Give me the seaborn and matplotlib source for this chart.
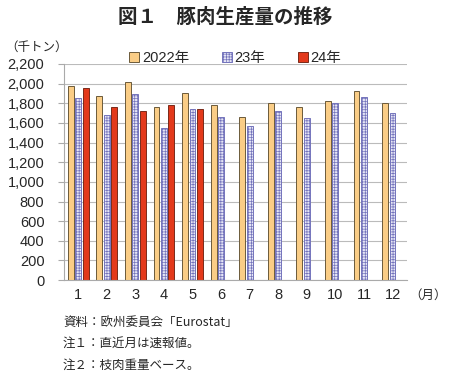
import matplotlib
matplotlib.use('Agg')
import matplotlib.pyplot as plt
import seaborn as sns
import pandas as pd
import numpy as np
from matplotlib.patches import Patch

months = [str(m) for m in range(1, 13)]
y2022 = [1978, 1875, 2019, 1759, 1902, 1779, 1656, 1800, 1766, 1820, 1923, 1807]
y2023 = [1858, 1677, 1889, 1543, 1738, 1663, 1571, 1725, 1646, 1807, 1868, 1697]
y2024 = [1954, 1762, 1721, 1779, 1738]
series = ['2022年', '23年', '24年']

# long-format table for seaborn
rows = []
for name, vals in zip(series, [y2022, y2023, y2024]):
    for i, m in enumerate(months):
        v = vals[i] if i < len(vals) else np.nan
        rows.append({'month': m, 'series': name, 'value': v})
df = pd.DataFrame(rows)

sns.set_style('white')
plt.rcParams['font.family'] = ['Liberation Sans', 'Noto Sans CJK JP', 'DejaVu Sans']
plt.rcParams['hatch.linewidth'] = 0.5

colors = ['#FACD86', '#E6E6F6', '#E3391B']
edges = ['#6B5A3A', '#7474BC', '#7A2A1A']

fig = plt.figure(figsize=(4.5, 3.76), dpi=100)
ax = fig.add_axes([0.142, 0.255, 0.762, 0.575])

sns.barplot(data=df, x='month', y='value', hue='series', order=months,
            hue_order=series, palette=colors, width=0.78, ax=ax,
            legend=False, errorbar=None, saturation=1)

for k, cont in enumerate(ax.containers):
    for p in cont.patches:
        w = p.get_width()
        p.set_x(p.get_x() + w * 0.1)
        p.set_width(w * 0.8)
        p.set_edgecolor(edges[k])
        p.set_linewidth(0.7)
        if k == 1:
            p.set_hatch('++++++')

ax.set_ylim(0, 2200)
ax.set_yticks(range(0, 2201, 200))
ax.set_yticklabels([f'{v:,}' for v in range(0, 2201, 200)], fontsize=10.5)
ax.set_xticklabels(months, fontsize=10.5)
ax.set_xlabel('')
ax.set_ylabel('')
ax.yaxis.grid(True, color='#BBBBBB', linewidth=0.8)
ax.set_axisbelow(True)
for s in ['top', 'right']:
    ax.spines[s].set_visible(False)
ax.spines['left'].set_color('#AAAAAA')
ax.spines['bottom'].set_color('#AAAAAA')
ax.tick_params(axis='x', length=0, pad=6)
ax.tick_params(axis='y', length=0, pad=10)
# tick marks between month groups
ax.set_xticks(np.arange(-0.5, 12, 1), minor=True)
ax.tick_params(axis='x', which='minor', length=4, color='#AAAAAA', direction='out')
ax.tick_params(axis='y', which='both', left=True, length=4, color='#AAAAAA')
ax.set_xlim(-0.5, 11.5)

handles = [Patch(facecolor=colors[i], edgecolor=edges[i], hatch='++++++' if i == 1 else None,
                 linewidth=0.7) for i in range(3)]
fig.legend(handles, series, loc='center', bbox_to_anchor=(0.523, 0.846), ncol=3,
           frameon=False, fontsize=10.5, handlelength=0.7, handleheight=0.7,
           handletextpad=0.2, columnspacing=2.2)

fig.text(0.5, 0.955, '図１　豚肉生産量の推移', ha='center', va='center',
         fontsize=14, fontweight='bold', family=['Noto Sans CJK JP'])
fig.text(0.012, 0.875, '（千トン）', ha='left', va='center', fontsize=9,
         family=['Noto Sans CJK JP'])
fig.text(0.91, 0.215, '（月）', ha='left', va='center', fontsize=9,
         family=['Noto Sans CJK JP'])
notes = ['資料：欧州委員会「Eurostat」', '注１：直近月は速報値。', '注２：枝肉重量ベース。']
for i, t in enumerate(notes):
    fig.text(0.14, 0.142 - i * 0.057, t, ha='left', va='center', fontsize=9,
             family=['Noto Sans CJK JP', 'Liberation Sans'])

fig.savefig('out.png', dpi=100)
